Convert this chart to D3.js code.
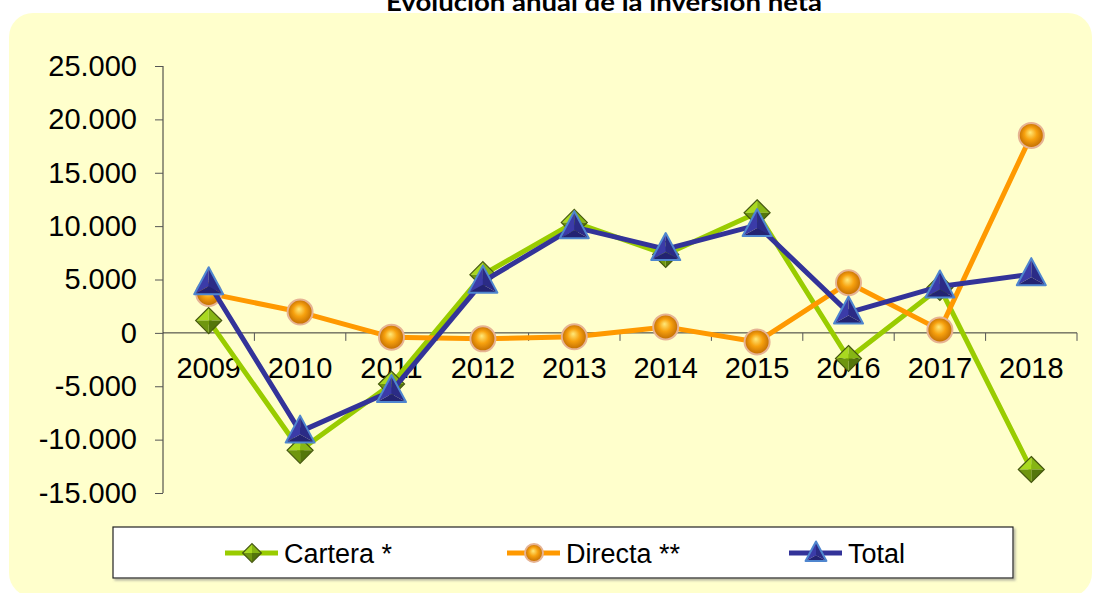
<!DOCTYPE html>
<html>
<head>
<meta charset="utf-8">
<script src="https://cdn.jsdelivr.net/npm/d3@7"></script>
<style>
  body { margin: 0; background: #fff; }
  svg { display: block; font-family: "Liberation Sans", Arial, sans-serif; }
</style>
</head>
<body>
<svg id="chart" width="1093" height="593"></svg>
<script>
// chart data
const years = ['2009', '2010', '2011', '2012', '2013', '2014', '2015', '2016', '2017', '2018'];
const cartera = [1150, -11000, -4800, 5450, 10350, 7350, 11250, -2400, 4250, -12800];
const directa = [3700, 1950, -400, -560, -370, 560, -850, 4700, 280, 18500];
const total = [4650, -9250, -5450, 4800, 9900, 7850, 10100, 1900, 4350, 5500];
const yTicks = [-15000, -10000, -5000, 0, 5000, 10000, 15000, 20000, 25000];
const seriesNames = ['Cartera *', 'Directa **', 'Total'];

const svg = d3.select('#chart');
const defs = svg.append('defs');

// sphere look for the Directa markers
const ball = defs.append('radialGradient').attr('id', 'ball')
    .attr('cx', '50%').attr('cy', '50%').attr('r', '55%')
    .attr('fx', '45%').attr('fy', '38%');
ball.append('stop').attr('offset', '0%').attr('stop-color', '#ffe97a');
ball.append('stop').attr('offset', '45%').attr('stop-color', '#f7a10e');
ball.append('stop').attr('offset', '100%').attr('stop-color', '#b86400');

const shadow = defs.append('filter').attr('id', 'shadow')
    .attr('x', '-5%').attr('y', '-20%').attr('width', '110%').attr('height', '150%');
shadow.append('feDropShadow').attr('dx', 2).attr('dy', 2).attr('stdDeviation', 1)
    .attr('flood-color', '#888').attr('flood-opacity', 0.6);

// yellow panel
svg.append('rect')
    .attr('x', 9).attr('y', 13)
    .attr('width', 1083).attr('height', 584)
    .attr('rx', 24)
    .attr('fill', '#ffffcc');

// title sits half outside the top edge, as in the source
svg.append('text')
    .attr('x', 604).attr('y', 11)
    .attr('text-anchor', 'middle')
    .attr('font-family', 'Lato, "Open Sans", sans-serif')
    .attr('font-weight', 'bold')
    .attr('font-size', 24)
    .attr('textLength', 436)
    .attr('lengthAdjust', 'spacingAndGlyphs')
    .attr('fill', '#000')
    .text('Evolución anual de la inversión neta');

const x = d3.scaleBand().domain(years).range([163, 1077]);
const y = d3.scaleLinear().domain([-15000, 25000]).range([493, 66]);

const es = d3.formatLocale({decimal: ',', thousands: '.', grouping: [3], currency: ['', ''], minus: '-'});
const fmt = es.format(',.0f');

// y axis
const yAxis = svg.append('g')
    .attr('transform', `translate(${x.range()[0]},0)`)
    .call(d3.axisLeft(y).tickValues(yTicks).tickFormat(fmt).tickSize(8).tickPadding(18));
yAxis.select('.domain').attr('stroke', '#333').attr('d', `M0,${y(25000)}V${y(-15000)}`);
yAxis.selectAll('.tick line').attr('stroke', '#555');
yAxis.selectAll('.tick text')
    .attr('font-size', 29)
    .attr('font-family', '"Liberation Sans", Arial, sans-serif')
    .attr('fill', '#000');

// x axis along zero
const xAxis = svg.append('g').attr('transform', `translate(0,${y(0)})`);
xAxis.append('line')
    .attr('x1', x.range()[0]).attr('x2', x.range()[1])
    .attr('stroke', '#333');
xAxis.selectAll('line.tk')
    .data(years.slice(1).map(d => x(d)).concat([x.range()[1]]))
    .join('line').attr('class', 'tk')
    .attr('x1', d => d).attr('x2', d => d)
    .attr('y1', 0).attr('y2', 8)
    .attr('stroke', '#555');
xAxis.selectAll('text')
    .data(years)
    .join('text')
    .attr('x', d => x(d) + x.bandwidth() / 2)
    .attr('y', 45)
    .attr('text-anchor', 'middle')
    .attr('font-size', 29)
    .attr('fill', '#000')
    .text(d => d);

// marker painters
function diamond(g, s) {
    const h = 13 * s;
    const facets = [
        [[0, 0], [-h, 0], [0, -h], '#a9d920'],
        [[0, 0], [0, -h], [h, 0], '#86b514'],
        [[0, 0], [h, 0], [0, h], '#54760b'],
        [[0, 0], [0, h], [-h, 0], '#6f960f']
    ];
    facets.forEach(f => {
        g.append('path')
            .attr('d', `M${f[0]}L${f[1]}L${f[2]}Z`)
            .attr('fill', f[3]);
    });
    g.append('path')
        .attr('d', `M0,${-h}L${h},0L0,${h}L${-h},0Z`)
        .attr('fill', 'none').attr('stroke', '#45580f').attr('stroke-width', 1.2);
}

function sphere(g, s) {
    g.append('circle')
        .attr('r', 12.5 * s)
        .attr('fill', 'url(#ball)')
        .attr('stroke', '#e6b393').attr('stroke-width', 2);
}

function triangle(g, s) {
    const top = [0, -16 * s], r = [14.5 * s, 11 * s], l = [-14.5 * s, 11 * s], c = [0, 3 * s];
    g.append('path').attr('d', `M${top}L${c}L${l}Z`).attr('fill', '#3b3ba8');
    g.append('path').attr('d', `M${top}L${r}L${c}Z`).attr('fill', '#2b2b86');
    g.append('path').attr('d', `M${l}L${c}L${r}Z`).attr('fill', '#232372');
    g.append('path')
        .attr('d', `M${top}L${r}L${l}Z`)
        .attr('fill', 'none').attr('stroke', '#4f86cf').attr('stroke-width', 2)
        .attr('stroke-linejoin', 'round');
}

const series = [
    {name: seriesNames[0], values: cartera, color: '#99cc00', marker: diamond},
    {name: seriesNames[1], values: directa, color: '#ff9900', marker: sphere},
    {name: seriesNames[2], values: total, color: '#333399', marker: triangle}
];

const line = d3.line()
    .x((d, i) => x(years[i]) + x.bandwidth() / 2)
    .y(d => y(d));

const plot = svg.append('g');
series.forEach(s => {
    const g = plot.append('g');
    g.append('path')
        .attr('d', line(s.values))
        .attr('fill', 'none')
        .attr('stroke', s.color)
        .attr('stroke-width', 5)
        .attr('stroke-linejoin', 'round');
    s.values.forEach((v, i) => {
        const m = g.append('g')
            .attr('transform', `translate(${x(years[i]) + x.bandwidth() / 2},${y(v)})`);
        s.marker(m, 1);
    });
});

// legend
const legend = svg.append('g');
legend.append('rect')
    .attr('x', 113).attr('y', 527)
    .attr('width', 900).attr('height', 51)
    .attr('fill', '#fff')
    .attr('stroke', '#222').attr('stroke-width', 1.2)
    .attr('filter', 'url(#shadow)');

const legendX = d3.scalePoint().domain(seriesNames).range([225, 789]);
series.forEach(s => {
    const lx = legendX(s.name);
    const item = legend.append('g').attr('transform', `translate(${lx},553)`);
    item.append('line')
        .attr('x1', 0).attr('x2', 53)
        .attr('stroke', s.color).attr('stroke-width', 5);
    const m = item.append('g').attr('transform', 'translate(27,0)');
    s.marker(m, 0.72);
    item.append('text')
        .attr('x', 59).attr('y', 10)
        .attr('font-size', 27)
        .attr('fill', '#000')
        .text(s.name);
});
</script>
</body>
</html>
